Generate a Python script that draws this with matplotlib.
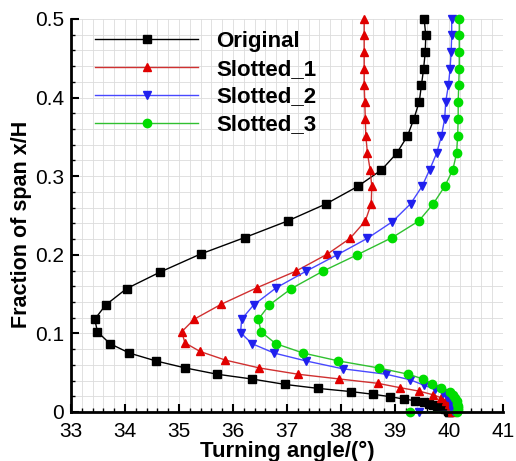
import numpy as np
import matplotlib
matplotlib.use('Agg')
import matplotlib.pyplot as plt
from matplotlib.ticker import MultipleLocator, FormatStrFormatter

plt.rcParams['font.family'] = ['Liberation Sans', 'DejaVu Sans']

# turning angle (deg) vs fraction of span, read top-down from the figure
orig_x = [39.54, 39.57, 39.56, 39.53, 39.49, 39.45, 39.35, 39.23, 39.03, 38.75, 38.31,
          37.73, 37.01, 36.22, 35.40, 34.65, 34.03, 33.64, 33.44, 33.49, 33.72, 34.08,
          34.57, 35.12, 35.71, 36.35, 36.97, 37.58, 38.18, 38.60, 38.91, 39.16, 39.37,
          39.54, 39.63, 39.71, 39.78, 39.84, 39.89, 39.93, 39.96, 39.98, 39.99, 40.00, 40.00]
orig_y = [0.500, 0.479, 0.458, 0.437, 0.416, 0.395, 0.373, 0.351, 0.329, 0.308, 0.287,
          0.265, 0.243, 0.222, 0.201, 0.178, 0.157, 0.136, 0.118, 0.102, 0.087, 0.075,
          0.065, 0.056, 0.048, 0.042, 0.035, 0.030, 0.026, 0.0225, 0.0195, 0.0165, 0.0144,
          0.0123, 0.0108, 0.0094, 0.0080, 0.0067, 0.0055, 0.0043, 0.0032, 0.0022, 0.0013, 0.0006, 0.0]

s1_x = [38.43, 38.43, 38.43, 38.43, 38.43, 38.44, 38.45, 38.46, 38.49, 38.54, 38.57,
        38.56, 38.45, 38.17, 37.75, 37.16, 36.44, 35.78, 35.28, 35.05, 35.11, 35.39,
        35.86, 36.49, 37.21, 37.97, 38.68, 39.09, 39.45, 39.70, 39.86, 39.95, 40.00,
        40.03, 40.04, 40.05, 40.05]
s1_y = [0.500, 0.479, 0.458, 0.437, 0.416, 0.395, 0.373, 0.351, 0.329, 0.308, 0.287,
        0.265, 0.243, 0.221, 0.201, 0.179, 0.158, 0.137, 0.118, 0.102, 0.088, 0.077,
        0.066, 0.056, 0.048, 0.042, 0.0365, 0.031, 0.0265, 0.022, 0.018, 0.014, 0.010,
        0.007, 0.0045, 0.0022, 0.0005]

s2_x = [40.05, 40.05, 40.04, 40.02, 39.99, 39.94, 39.92, 39.86, 39.77, 39.64, 39.50,
        39.29, 38.95, 38.49, 37.93, 37.35, 36.80, 36.38, 36.16, 36.14, 36.35, 36.76,
        37.35, 38.03, 38.84, 39.28, 39.54, 39.74, 39.88, 39.97, 40.02, 40.05, 40.07,
        40.08, 40.08, 40.07, 39.45]
s2_y = [0.500, 0.479, 0.458, 0.437, 0.416, 0.395, 0.373, 0.351, 0.329, 0.308, 0.287,
        0.265, 0.242, 0.221, 0.200, 0.179, 0.158, 0.136, 0.118, 0.101, 0.087, 0.075,
        0.065, 0.055, 0.048, 0.041, 0.034, 0.029, 0.024, 0.019, 0.015, 0.011, 0.008,
        0.005, 0.0025, 0.0008, 0.0]

s3_x = [40.19, 40.19, 40.19, 40.19, 40.18, 40.17, 40.17, 40.16, 40.14, 40.07, 39.92,
        39.71, 39.44, 38.95, 38.30, 37.66, 37.08, 36.67, 36.47, 36.52, 36.79, 37.30,
        37.95, 38.70, 39.25, 39.52, 39.68, 39.86, 40.01, 40.08, 40.12, 40.14, 40.15,
        40.16, 40.16, 40.16, 40.15, 39.27]
s3_y = [0.500, 0.479, 0.458, 0.437, 0.416, 0.394, 0.373, 0.351, 0.329, 0.308, 0.287,
        0.265, 0.243, 0.222, 0.200, 0.179, 0.157, 0.136, 0.118, 0.102, 0.087, 0.075,
        0.065, 0.056, 0.048, 0.042, 0.036, 0.031, 0.026, 0.022, 0.018, 0.014, 0.010,
        0.007, 0.0045, 0.0022, 0.0006, 0.0]

fig = plt.figure(figsize=(5.16, 4.61), dpi=100)
ax = fig.add_axes([0.1376, 0.1063, 0.8372, 0.8525])

ax.plot(orig_x, orig_y, '-s', color='black', lw=1.0, ms=5.5, label='Original', clip_on=False)
ax.plot(s1_x, s1_y, '-^', color='#d03030', mfc='#e00000', mec='#e00000', lw=1.0, ms=6,
        label='Slotted_1', clip_on=False)
ax.plot(s2_x, s2_y, '-v', color='#4848ff', mfc='#2020ee', mec='#2020ee', lw=1.0, ms=6,
        label='Slotted_2', clip_on=False)
ax.plot(s3_x, s3_y, '-o', color='#30c030', mfc='#00dd00', mec='#00dd00', lw=1.0, ms=6,
        label='Slotted_3', clip_on=False)

ax.set_xlim(33, 41)
ax.set_ylim(0, 0.5)
ax.xaxis.set_major_locator(MultipleLocator(1))
ax.xaxis.set_minor_locator(MultipleLocator(0.2))
ax.yaxis.set_major_locator(MultipleLocator(0.1))
ax.yaxis.set_minor_locator(MultipleLocator(0.02))
ax.yaxis.set_major_formatter(FormatStrFormatter('%g'))
ax.grid(which='both', color='#dcdcdc', lw=0.6)
ax.set_axisbelow(True)

for s in ['top', 'right']:
    ax.spines[s].set_visible(False)
for s in ['left', 'bottom']:
    ax.spines[s].set_linewidth(2)

ax.tick_params(which='major', direction='in', length=6, width=1.5, labelsize=15)
ax.tick_params(axis='x', which='major', pad=7)
ax.tick_params(axis='y', which='major', pad=5)
ax.tick_params(which='minor', direction='in', length=3, width=1)

ax.set_xlabel('Turning angle/(°)', fontsize=16, fontweight='bold', labelpad=0)
ax.set_ylabel('Fraction of span x/H', fontsize=15.5, fontweight='bold')
ax.yaxis.set_label_coords(-0.090, 0.478)

leg = ax.legend(loc='upper left', bbox_to_anchor=(0.056, 0.970), frameon=False,
                handlelength=4.64, handletextpad=0.8, labelspacing=0.31, borderpad=0,
                borderaxespad=0, prop={'weight': 'bold', 'size': 16})

fig.savefig('out.png', dpi=100)
